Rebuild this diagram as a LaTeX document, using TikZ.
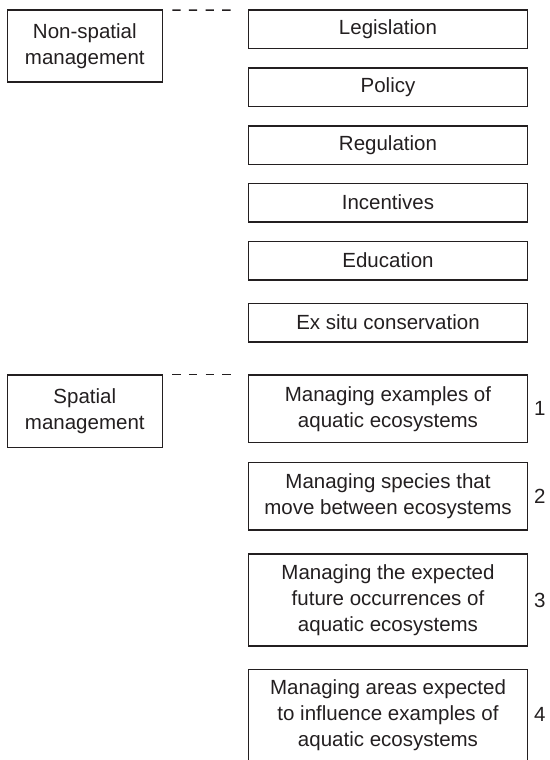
\documentclass[tikz,border=0pt]{standalone}
\usepackage{fontspec}
\setmainfont{Liberation Sans}
\definecolor{ink}{HTML}{231F20}
\begin{document}
\begin{tikzpicture}[x=1pt,y=-1pt,
  every node/.style={text=ink,font=\fontsize{20.5}{26}\selectfont},
  box/.style={draw=ink,line width=1.1pt,inner sep=0pt,align=center,minimum width=279.4pt},
  lbox/.style={draw=ink,line width=1.1pt,inner sep=0pt,align=center,minimum width=155pt,minimum height=72pt},
  dashlink/.style={draw=ink,line width=1.6pt,dash pattern=on 8.33pt off 8.33pt},
  num/.style={inner sep=0pt}]
\useasboundingbox (0,0) rectangle (549,760);
% left boxes
\node[lbox] (ns) at (84.8,46) {Non-spatial\\management};
\node[lbox,minimum height=72.7pt] (sp) at (84.8,411.35) {Spatial\\management};
% right boxes, non-spatial
\node[box,minimum height=38.7pt] (leg) at (388,29.35) {Legislation};
\node[box,minimum height=38.7pt] (pol) at (388,87.35) {Policy};
\node[box,minimum height=38.7pt] (reg) at (388,145.35) {Regulation};
\node[box,minimum height=38.7pt] (inc) at (388,202.65) {Incentives};
\node[box,minimum height=38.7pt] (edu) at (388,260.65) {Education};
\node[box,minimum height=38.7pt] (exs) at (388,322.65) {Ex situ conservation};
% right boxes, spatial
\node[box,minimum height=67.7pt] (b1) at (388,408.85) {Managing examples of\\aquatic ecosystems};
\node[box,minimum height=67.3pt] (b2) at (388,496.35) {Managing species that\\move between ecosystems};
\node[box,minimum height=92pt] (b3) at (388,600) {Managing the expected\\future occurrences of\\aquatic ecosystems};
\node[box,minimum height=91pt] (b4) at (388,714.8) {Managing areas expected\\to influence examples of\\aquatic ecosystems};
% numbers
\node[num] (n1) at ([xshift=11.5pt]b1.east) {1};
\node[num] (n2) at ([xshift=11.5pt]b2.east) {2};
\node[num] (n3) at ([xshift=11.5pt]b3.east) {3};
\node[num] (n4) at ([xshift=11.5pt]b4.east) {4};
% dashed links
\draw[dashlink] ([xshift=9.4pt,yshift=-0.7pt]ns.north east) -- ([xshift=-9.3pt,yshift=-0.7pt]leg.north west);
\draw[dashlink] ([xshift=9.4pt,yshift=0pt]sp.north east) -- ([xshift=-9.3pt,yshift=0pt]b1.north west);
\end{tikzpicture}
\end{document}
